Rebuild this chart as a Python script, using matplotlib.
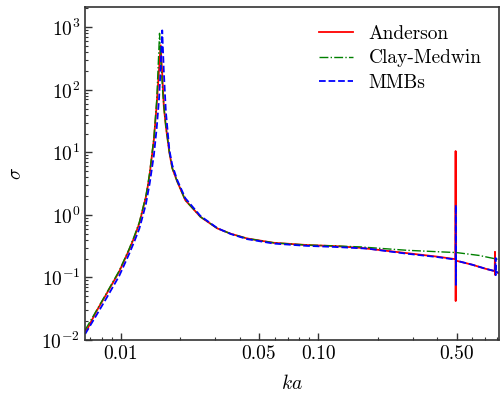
"""
Backscattering cross-section sigma vs ka for three bubble models
"""
import matplotlib
matplotlib.use("Agg")
import matplotlib.pyplot as plt
from matplotlib.ticker import FixedLocator, FormatStrFormatter, LogLocator, NullFormatter

# Anderson (red, solid)
ka_anderson = [0.0066, 0.0068, 0.0075, 0.0084, 0.0098, 0.0110, 0.0117, 0.0124, 0.0129,
               0.0134, 0.0137, 0.0140, 0.0147, 0.0152, 0.0156, 0.0159, 0.0162, 0.0165,
               0.0169, 0.0176, 0.0182, 0.0193, 0.0212, 0.0253, 0.0308, 0.0360, 0.0436,
               0.0595, 0.0874, 0.120, 0.163, 0.280, 0.400, 0.4940, 0.4946, 0.4950,
               0.4955, 0.600, 0.700, 0.7800, 0.7825, 0.7830, 0.7835, 0.820]
sigma_anderson = [0.0140, 0.0154, 0.0283, 0.0524, 0.123, 0.274, 0.44, 0.73, 1.2,
                  1.95, 2.9, 4.5, 16, 60, 206, 515, 180, 55,
                  26, 10, 5.6, 3.4, 1.72, 0.93, 0.608, 0.50, 0.42,
                  0.358, 0.33, 0.318, 0.298, 0.245, 0.215, 0.196, 10.5, 0.042,
                  0.186, 0.160, 0.138, 0.126, 0.257, 0.110, 0.125, 0.116]

# Clay-Medwin (green, dash-dot)
ka_clay = [0.0066, 0.0075, 0.0084, 0.0098, 0.0110, 0.0117, 0.0124, 0.0129, 0.0134,
           0.0137, 0.0140, 0.0147, 0.0152, 0.0155, 0.0157, 0.0160, 0.0163, 0.0166,
           0.0169, 0.0176, 0.0182, 0.0193, 0.0212, 0.0253, 0.0308, 0.0360, 0.0436,
           0.0595, 0.0874, 0.120, 0.163, 0.280, 0.400, 0.500, 0.650, 0.820]
sigma_clay = [0.0145, 0.029, 0.054, 0.127, 0.283, 0.46, 0.76, 1.25, 2.05,
              3.05, 4.8, 17, 70, 300, 800, 250, 90, 45,
              26, 10, 5.6, 3.4, 1.72, 0.93, 0.608, 0.50, 0.42,
              0.358, 0.33, 0.320, 0.308, 0.272, 0.258, 0.250, 0.225, 0.193]

# MMBs (blue, dashed)
ka_mmbs = [0.0066, 0.0075, 0.0084, 0.0098, 0.0110, 0.0117, 0.0124, 0.0129, 0.0134,
           0.0137, 0.0140, 0.0147, 0.0152, 0.0156, 0.0159, 0.0162, 0.0165, 0.0169,
           0.0176, 0.0182, 0.0193, 0.0212, 0.0253, 0.0308, 0.0360, 0.0436, 0.0595,
           0.0874, 0.120, 0.176, 0.280, 0.400, 0.4950, 0.4958, 0.4962, 0.4968,
           0.600, 0.700, 0.7860, 0.7890, 0.7895, 0.7900, 0.820]
sigma_mmbs = [0.0125, 0.0245, 0.045, 0.105, 0.235, 0.375, 0.60, 0.95, 1.5,
              2.2, 3.2, 9, 25, 70, 220, 890, 200, 45,
              11, 6.3, 3.6, 1.85, 0.96, 0.615, 0.495, 0.41, 0.348,
              0.320, 0.308, 0.290, 0.240, 0.212, 0.193, 1.44, 0.076, 0.186,
              0.160, 0.138, 0.126, 0.205, 0.109, 0.124, 0.118]

plt.rcParams['font.family'] = 'serif'
plt.rcParams['font.serif'] = ['cmr10']
plt.rcParams['mathtext.fontset'] = 'cm'
plt.rcParams['axes.formatter.use_mathtext'] = True
plt.rcParams['font.size'] = 14

fig = plt.figure(figsize=(5.01, 3.94), dpi=100)
ax = fig.add_axes([0.170, 0.137, 0.826, 0.845])

ax.plot(ka_anderson, sigma_anderson, color='#ff0000', lw=1.3, label='Anderson')
ax.plot(ka_clay, sigma_clay, color='#008000', lw=1.0, ls='-.', label='Clay-Medwin')
ax.plot(ka_mmbs, sigma_mmbs, color='#0000ff', lw=1.3, ls='--', label='MMBs')

ax.set_xscale('log')
ax.set_yscale('log')
ax.set_xlim(0.0066, 0.82)
ax.set_ylim(1e-2, 2.1e3)

ax.xaxis.set_major_locator(FixedLocator([0.01, 0.05, 0.1, 0.5]))
ax.xaxis.set_major_formatter(FormatStrFormatter('%.2f'))
ax.xaxis.set_minor_locator(LogLocator(base=10, subs=range(2, 10)))
ax.xaxis.set_minor_formatter(NullFormatter())
ax.yaxis.set_major_locator(LogLocator(base=10, numticks=10))
ax.yaxis.set_minor_locator(LogLocator(base=10, subs=range(2, 10), numticks=10))

ax.tick_params(which='both', direction='in', top=False, right=False, color='0.2')
ax.tick_params(which='major', length=5, width=1.0)
ax.tick_params(which='minor', length=2.5, width=0.8)
for sp in ax.spines.values():
    sp.set_color('0.2')
    sp.set_linewidth(1.2)

ax.set_xlabel('$ka$', labelpad=8)
ax.set_ylabel(r'$\sigma$', labelpad=12)

ax.legend(loc='upper right', frameon=False, handlelength=1.75, labelspacing=0.35)

fig.savefig('out.png', dpi=100)
